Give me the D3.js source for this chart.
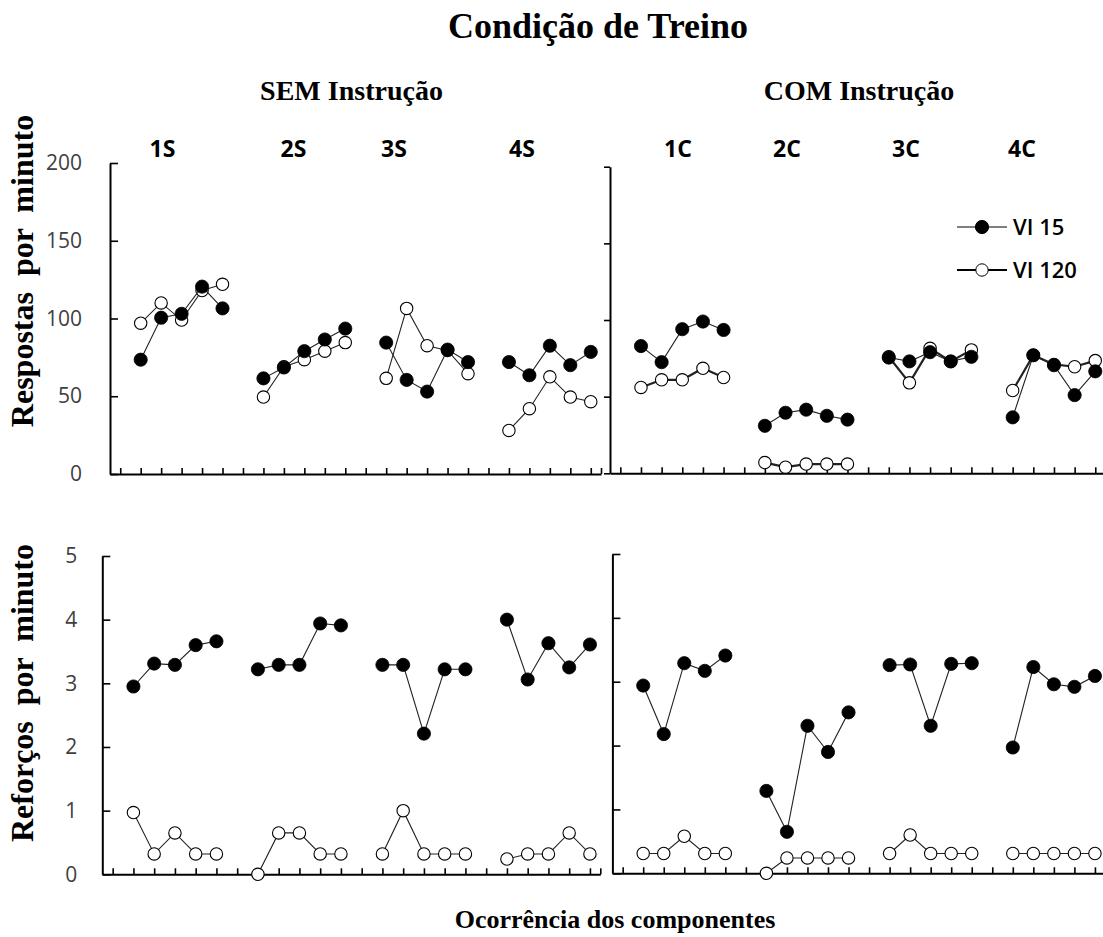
<!DOCTYPE html>
<html>
<head>
<meta charset="utf-8">
<script src="https://cdn.jsdelivr.net/npm/d3@7"></script>
<style>
  html, body { margin: 0; padding: 0; background: #fff; }
  svg { display: block; }
</style>
</head>
<body>
<svg id="chart" width="1103" height="937"></svg>
<script>
// ---------------- DATA ----------------
const groupsSEM = ["1S", "2S", "3S", "4S"];
const groupsCOM = ["1C", "2C", "3C", "4C"];
const seriesNames = ["VI 15", "VI 120"];
const respTicks = [0, 50, 100, 150, 200];
const reinfTicks = [0, 1, 2, 3, 4, 5];

// Respostas por minuto (5 occurrences per group, 4 groups)
const respSEM_VI15  = [73.5,100.5,103,120.5,106.5, 61.5,68.5,79,86.5,93.5, 84.5,60.5,53,80,72, 72,63.5,82.5,70,78.5];
const respSEM_VI120 = [97,110,99,118,122, 49.5,69,73.5,79,84.5, 61.5,106.5,82.5,79.5,64.5, 28,42,62.5,49.5,46.5];
const respCOM_VI15  = [83,72.5,94,99,93.5, 31,39.5,41.5,37.5,35, 75.5,73,79,73,76, 36.5,77,70.5,51,66.5];
const respCOM_VI120 = [56,61,61,68.5,62.5, 7,4,6,6,6, 76,59,81.5,73,80.5, 54,77,71,69.5,73.5];

// Reforços por minuto
const reinfSEM_VI15  = [2.95,3.31,3.29,3.60,3.66, 3.22,3.29,3.29,3.94,3.91, 3.29,3.29,2.21,3.22,3.22, 4.0,3.06,3.63,3.25,3.61];
const reinfSEM_VI120 = [0.97,0.32,0.65,0.32,0.32, 0,0.65,0.65,0.32,0.32, 0.32,1.0,0.32,0.32,0.32, 0.24,0.32,0.32,0.65,0.32];
const reinfCOM_VI15  = [2.94,2.18,3.29,3.17,3.41, 1.29,0.65,2.31,1.9,2.52, 3.26,3.27,2.31,3.28,3.29, 1.97,3.23,2.96,2.92,3.09];
const reinfCOM_VI120 = [0.31,0.31,0.58,0.31,0.31, 0,0.24,0.24,0.24,0.24, 0.31,0.6,0.31,0.31,0.31, 0.31,0.31,0.31,0.31,0.31];

// ---------------- LAYOUT ----------------
const svg = d3.select("#chart");
const serif = "'Liberation Serif','Times New Roman',serif";
const sans = "'Open Sans','Liberation Sans',sans-serif";
const nCat = 24;

const panels = [
  { x0: 110, x1: 601,    yTop: 163,   yBot: 474,   dom: [0, 200], ticks: respTicks,  labels: true,  tickDir: "in",
    groups: groupsSEM, s1: respSEM_VI15, s2: respSEM_VI120, thick2: false, labelPad: 28,
    groupLabelX: [162.5, 293.5, 394, 522] },
  { x0: 610, x1: 1105.6, yTop: 166.7, yBot: 473.3, dom: [0, 200], ticks: respTicks,  labels: false, tickDir: "out",
    groups: groupsCOM, s1: respCOM_VI15, s2: respCOM_VI120, thick2: true,
    groupLabelX: [678, 787, 906, 1022] },
  { x0: 102.3, x1: 600.3, yTop: 556,   yBot: 874.3, dom: [0, 5],   ticks: reinfTicks, labels: true,  tickDir: "in",
    groups: groupsSEM, s1: reinfSEM_VI15, s2: reinfSEM_VI120, thick2: false, labelPad: 25 },
  { x0: 612.4, x1: 1105.2, yTop: 554,   yBot: 873.3, dom: [0, 5],   ticks: reinfTicks, labels: false, tickDir: "in",
    groups: groupsCOM, s1: reinfCOM_VI15, s2: reinfCOM_VI120, thick2: false }
];

const catIndex = (k) => Math.floor(k / 5) * 6 + (k % 5) + 1;

panels.forEach((p) => {
  const x = d3.scaleLinear().domain([0, nCat]).range([p.x0, p.x1]);
  const y = d3.scaleLinear().domain(p.dom).range([p.yBot, p.yTop]);
  const g = svg.append("g");

  // x axis
  const xTickVals = d3.range(nCat).map(i => i + 0.5).concat([nCat]);
  const xa = g.append("g").attr("transform", `translate(0,${p.yBot})`)
    .call(d3.axisBottom(x).tickValues(xTickVals).tickSizeInner(-6).tickSizeOuter(0).tickFormat(""));
  xa.select(".domain").attr("stroke", "#000").attr("stroke-width", 2);
  xa.selectAll(".tick line").attr("stroke", "#000").attr("stroke-width", 1.6);

  // y axis
  const ya = d3.axisLeft(y).tickValues(p.ticks).tickSizeOuter(0);
  if (p.tickDir === "in") ya.tickSizeInner(-8); else ya.tickSizeInner(6);
  if (p.labels) ya.tickFormat(d3.format("d")); else ya.tickFormat("");
  const yg = g.append("g").attr("transform", `translate(${p.x0},0)`).call(ya);
  yg.select(".domain").attr("stroke", "#000").attr("stroke-width", 2);
  yg.selectAll(".tick line").attr("stroke", "#000").attr("stroke-width", 1.6);
  yg.selectAll(".tick text").attr("x", -(p.labelPad || 0)).attr("text-anchor", "end")
    .attr("font-family", sans).attr("font-size", 21).attr("fill", "#404040");

  // series: draw VI 120 first (open), then VI 15 (filled) on top
  const draw = (vals, filled, lw) => {
    const pts = vals.map((v, k) => ({ k, g: Math.floor(k / 5), cx: x(catIndex(k) + 0.5), cy: y(v) }));
    const line = d3.line().x(d => d.cx).y(d => d.cy);
    d3.range(4).forEach(gi => {
      g.append("path").datum(pts.filter(d => d.g === gi))
        .attr("d", line).attr("fill", "none").attr("stroke", "#222").attr("stroke-width", lw);
    });
    g.selectAll(null).data(pts).enter().append("circle")
      .attr("cx", d => d.cx).attr("cy", d => d.cy)
      .attr("r", filled ? 6.6 : 6.2)
      .attr("fill", filled ? "#000" : "#fff")
      .attr("stroke", "#000").attr("stroke-width", filled ? 0.8 : 1.1);
  };
  draw(p.s2, false, p.thick2 ? 2.2 : 1.1);
  draw(p.s1, true, 1.1);

  // group labels (top panels only)
  if (p.groupLabelX) {
    p.groups.forEach((name, i) => {
      g.append("text").attr("x", p.groupLabelX[i]).attr("y", 157)
        .attr("text-anchor", "middle").attr("font-family", sans).attr("font-weight", 700)
        .attr("font-size", 23).attr("fill", "#000").text(name);
    });
  }
});

// ---------------- TITLES ----------------
svg.append("text").attr("x", 598).attr("y", 38).attr("text-anchor", "middle")
  .attr("font-family", serif).attr("font-weight", 700).attr("font-size", 36).text("Condição de Treino");
svg.append("text").attr("x", 351.5).attr("y", 100).attr("text-anchor", "middle")
  .attr("font-family", serif).attr("font-weight", 700).attr("font-size", 28).text("SEM Instrução");
svg.append("text").attr("x", 859).attr("y", 100).attr("text-anchor", "middle")
  .attr("font-family", serif).attr("font-weight", 700).attr("font-size", 28).text("COM Instrução");
svg.append("text").attr("transform", "translate(33,271) rotate(-90)").attr("text-anchor", "middle")
  .attr("font-family", serif).attr("font-weight", 700).attr("font-size", 32)
  .style("white-space", "pre").text("Respostas  por  minuto");
svg.append("text").attr("transform", "translate(33,693) rotate(-90)").attr("text-anchor", "middle")
  .attr("font-family", serif).attr("font-weight", 700).attr("font-size", 32)
  .style("white-space", "pre").text("Reforços  por  minuto");
svg.append("text").attr("x", 615).attr("y", 928).attr("text-anchor", "middle")
  .attr("font-family", serif).attr("font-weight", 700).attr("font-size", 26).text("Ocorrência dos componentes");

// ---------------- LEGEND ----------------
const legend = svg.append("g");
const legendRows = [
  { name: seriesNames[0], filled: true,  y: 227, lw: 1.2 },
  { name: seriesNames[1], filled: false, y: 270, lw: 2.2 }
];
legendRows.forEach(r => {
  legend.append("line").attr("x1", 957).attr("x2", 1007).attr("y1", r.y).attr("y2", r.y)
    .attr("stroke", "#000").attr("stroke-width", r.lw);
  legend.append("circle").attr("cx", 982).attr("cy", r.y).attr("r", r.filled ? 6.6 : 6.2)
    .attr("fill", r.filled ? "#000" : "#fff").attr("stroke", "#000").attr("stroke-width", 1);
  legend.append("text").attr("x", 1013).attr("y", r.y + 8)
    .attr("font-family", sans).attr("font-weight", 600).attr("font-size", 22).attr("fill", "#000").text(r.name);
});
</script>
</body>
</html>
